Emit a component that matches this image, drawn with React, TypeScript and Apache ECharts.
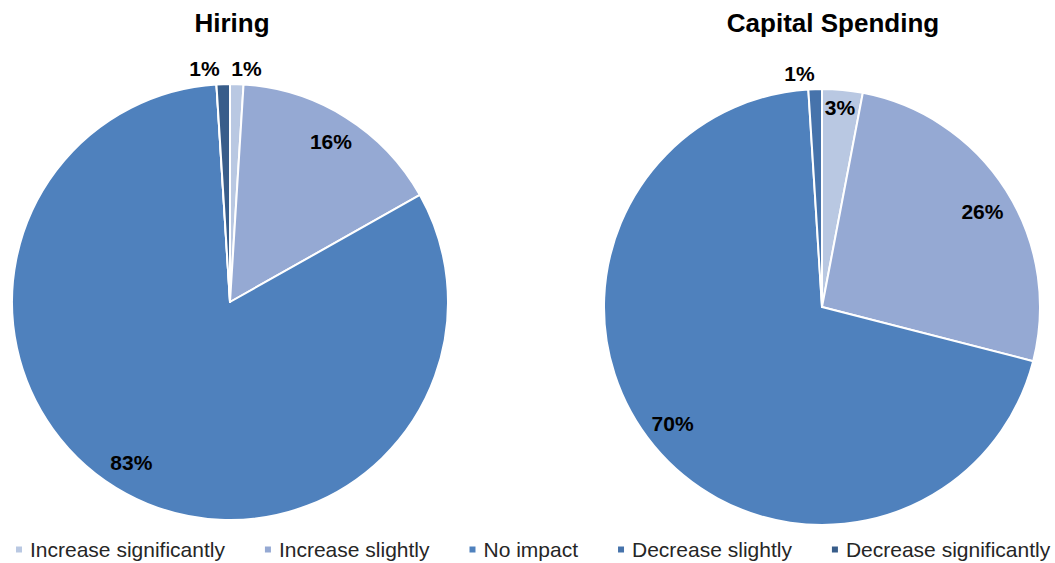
import React, { useEffect, useRef } from "react";
import * as echarts from "echarts";

const categories = [
  "Increase significantly",
  "Increase slightly",
  "No impact",
  "Decrease slightly",
  "Decrease significantly",
];
const colors = ["#b9c8e2", "#95a9d3", "#4f81bd", "#4673ab", "#385d8a"];
const hiringValues = [1, 16, 83, 0, 1];
const capitalValues = [3, 26, 70, 1, 0];
const titles = ["Hiring", "Capital Spending"];

const R = 218;
const centers: [number, number][] = [
  [230, 302],
  [822, 307],
];
const titleX = [227, 828];
// small nudges of label anchors, per chart and slice index
const labelNudges: Record<number, [number, number]>[] = [
  { 0: [-11, 0], 2: [-8, -6], 4: [2, 0] },
  { 0: [0, -10], 1: [0, 6], 2: [-3, -5], 3: [5, 0] },
];

const FONT = "Liberation Sans, Arial, sans-serif";

function buildData(values: number[]) {
  return categories.map((name, i) => ({
    name,
    value: values[i],
    itemStyle: { color: colors[i] },
  }));
}

function labelData(values: number[]) {
  return categories.map((name, i) => {
    const v = values[i];
    const small = v > 0 && v < 2;
    return {
      name,
      value: v,
      label: v === 0
        ? { show: false }
        : small
        ? { show: true, position: "outside" }
        : { show: true, position: "inside" },
      labelLine: { show: false, length: 16, length2: 0 },
    };
  });
}

export default function App() {
  const ref = useRef<HTMLDivElement>(null);
  useEffect(() => {
    document.body.style.margin = "0";
    const chart = echarts.init(ref.current!, undefined, { renderer: "svg" });
    const allValues = [hiringValues, capitalValues];
    const series: any[] = [];
    allValues.forEach((vals, k) => {
      series.push({
        type: "pie",
        center: centers[k],
        radius: [0, R],
        startAngle: 90,
        clockwise: true,
        data: buildData(vals),
        label: { show: false },
        labelLine: { show: false },
        itemStyle: { borderColor: "#ffffff", borderWidth: 2 },
        emphasis: { disabled: true },
        silent: true,
      });
      series.push({
        type: "pie",
        center: centers[k],
        radius: [156, R],
        startAngle: 90,
        clockwise: true,
        data: labelData(vals),
        itemStyle: { color: "rgba(0,0,0,0)" },
        label: {
          formatter: "{c}%",
          fontFamily: FONT,
          fontWeight: "bold",
          fontSize: 21,
          color: "#000000",
        },
        labelLine: { show: false },
        labelLayout: (p: any) => {
          const n = labelNudges[k][p.dataIndex];
          return n ? { dx: n[0], dy: n[1] } : {};
        },
        avoidLabelOverlap: false,
        emphasis: { disabled: true },
        silent: true,
        legendHoverLink: false,
      });
    });
    chart.setOption({
      animation: false,
      title: titles.map((t, k) => ({
        text: t,
        left: titleX[k],
        top: 5,
        textAlign: "center",
        textStyle: {
          fontFamily: FONT,
          fontWeight: "bold",
          fontSize: 26,
          color: "#000000",
        },
      })),
      legend: {
        data: categories,
        left: 14,
        top: 539,
        width: 1041,
        padding: 0,
        itemGap: 38,
        itemWidth: 8,
        itemHeight: 8,
        icon: "rect",
        selectedMode: false,
        textStyle: {
          fontFamily: FONT,
          fontSize: 21,
          color: "#262626",
          padding: [0, 0, 0, 2],
        },
      },
      color: colors,
      series,
    });
    return () => chart.dispose();
  }, []);
  return <div ref={ref} style={{ width: 1055, height: 563 }} />;
}
